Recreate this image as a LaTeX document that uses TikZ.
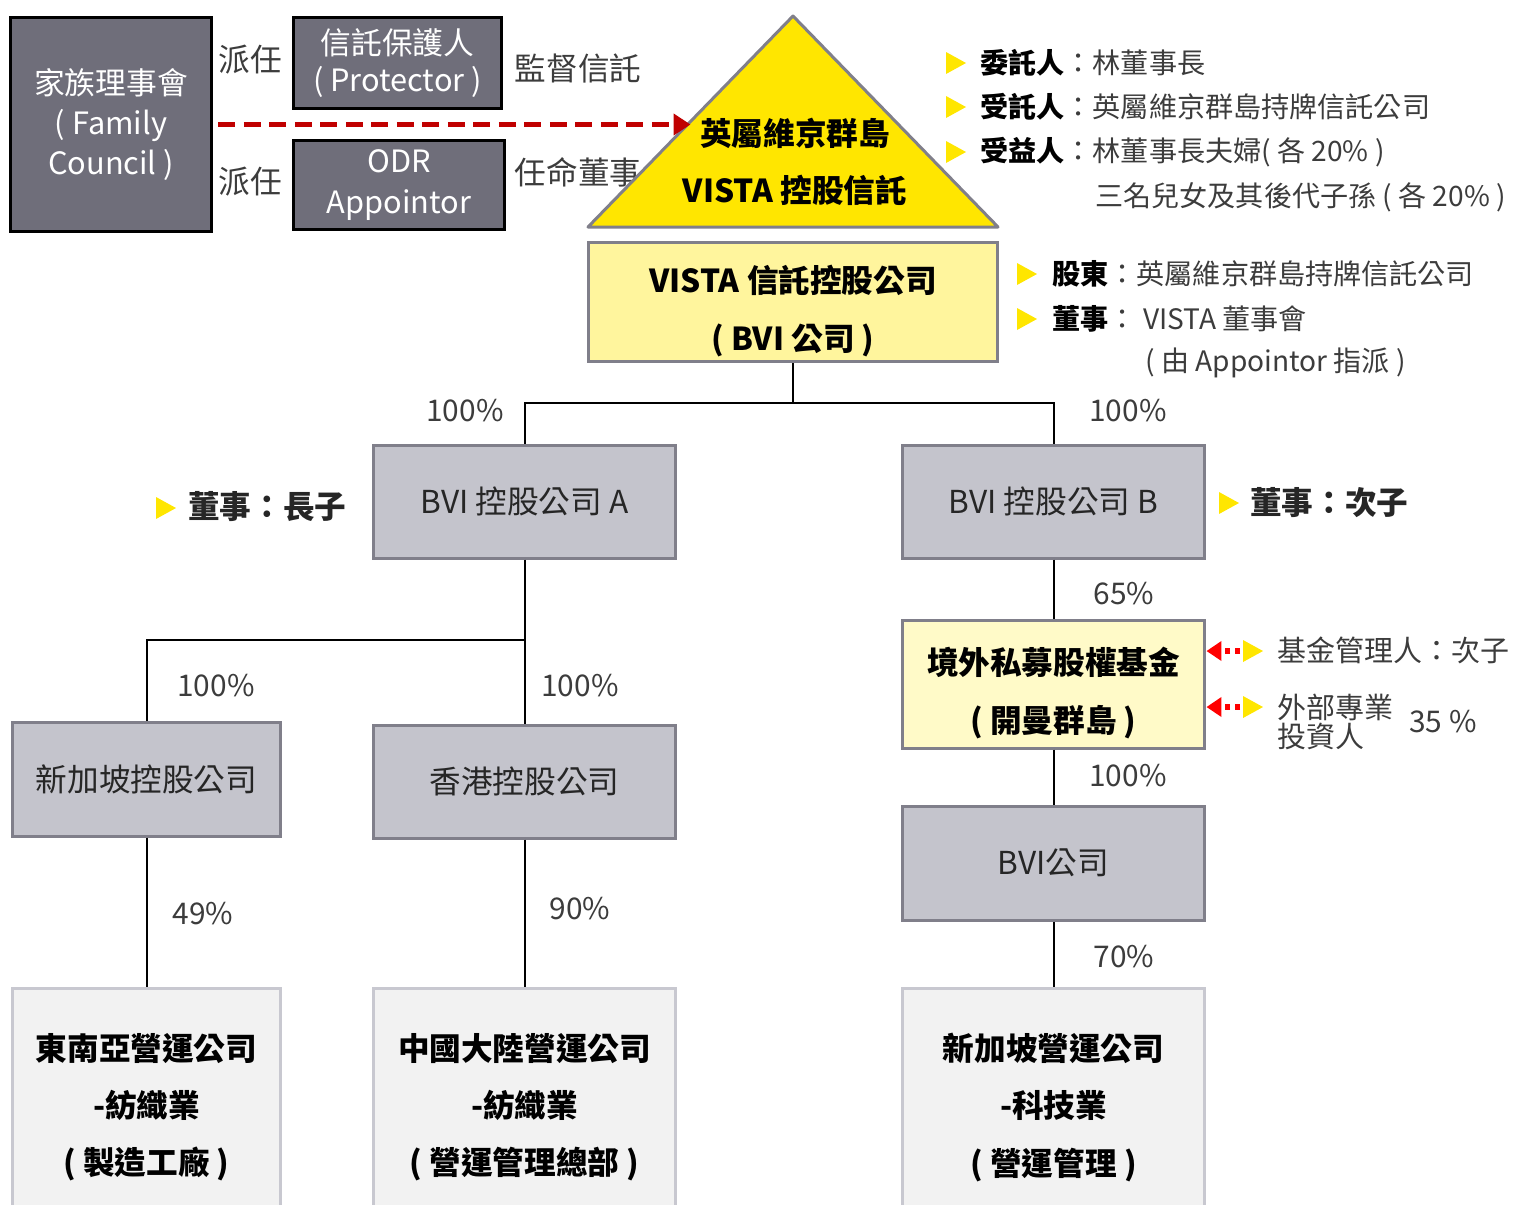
\documentclass[tikz,border=0pt]{standalone}
\usepackage{fontspec}
\setmainfont{Noto Sans CJK TC}
\usetikzlibrary{arrows.meta,calc}

\definecolor{famgray}{RGB}{111,110,122}
\definecolor{boxgray}{RGB}{196,196,204}
\definecolor{boxedge}{RGB}{128,127,138}
\definecolor{opfill}{RGB}{242,242,242}
\definecolor{opedge}{RGB}{200,200,208}
\definecolor{trustyellow}{RGB}{255,230,0}
\definecolor{vistayellow}{RGB}{255,245,157}
\definecolor{fundyellow}{RGB}{255,250,200}
\definecolor{darkred}{RGB}{192,0,0}
\definecolor{txtgray}{RGB}{60,60,60}

% yellow bullet pointing right
\newcommand{\ybul}[1]{\fill[trustyellow] (#1) ++(-9,-11) -- ++(20,11) -- ++(-20,11) -- cycle;}
\newcommand{\hd}[1]{{\color{black}\bfseries #1}}

\tikzset{
  darkbox/.style={draw=black, line width=0.06cm, fill=famgray, text=white, align=center,
    inner sep=0pt, font=\fontsize{17.5}{23}\selectfont},
  holdbox/.style={draw=boxedge, line width=0.06cm, fill=boxgray, text=black!85, align=center,
    inner sep=0pt, minimum width=6.06cm, font=\fontsize{18}{22}\selectfont},
  yellowbox/.style={draw=boxedge, line width=0.06cm, inner sep=0pt},
  boxtext/.style={align=center, inner sep=0pt, font=\bfseries\fontsize{18}{32.5}\selectfont},
  opbox/.style={draw=opedge, line width=0.06cm, fill=opfill, align=center, anchor=north,
    inner sep=0pt, minimum height=4.76cm, font=\bfseries\fontsize{18}{32.5}\selectfont},
  note/.style={text=txtgray, inner sep=0pt, font=\fontsize{18}{22}\selectfont},
  listtext/.style={anchor=west, text=txtgray, inner sep=0pt, font=\fontsize{16}{20}\selectfont},
  dirtext/.style={anchor=west, text=black!85, inner sep=0pt, font=\bfseries\fontsize{18}{22}\selectfont},
  pct/.style={text=txtgray, inner sep=0pt, font=\fontsize{17}{20}\selectfont},
  link/.style={line width=0.04cm, black},
  dotarrow/.style={red, line width=0.12cm, dash pattern=on 0.1cm off 0.1cm,
    -{Triangle[length=0.3cm,width=0.38cm]}}
}

\begin{document}
\begin{tikzpicture}[x=0.02cm, y=-0.02cm]
  \useasboundingbox (0,0) rectangle (1513,1204);
  \clip (0,0) rectangle (1513,1204);

  % family council, protector, appointor
  \node[darkbox, minimum width=4.04cm, minimum height=4.30cm] (fam) at (111,124.5) {家族理事會\\( Family\\Council )};
  \node[darkbox, minimum width=4.18cm, minimum height=1.84cm] (prot) at (397.5,63) {\raisebox{-0.06cm}{信託保護人}\\( Protector )};
  \node[darkbox, minimum width=4.24cm, minimum height=1.80cm] (odr) at (399,185) {ODR\\Appointor};

  \node[note] (pai1) at (250,60) {派任};
  \node[note] (pai2) at (250,182) {派任};
  \node[note] (jiandu) at (578,68) {監督信託};
  \node[note] (renming) at (578,172) {任命董事};

  % trust triangle
  \coordinate (apex) at (793,16);
  \coordinate (triL) at (588,227);
  \coordinate (triR) at (998,227);
  \draw[draw=boxedge, line width=0.06cm, fill=trustyellow, line join=round] (apex) -- (triR) -- (triL) -- cycle;
  \node[boxtext] (trust) at (795,162) {英屬維京群島\\VISTA 控股信託};

  \coordinate (hit) at ($(apex)!0.5!(triL)$);
  \draw[darkred, line width=0.1cm, dash pattern=on 0.34cm off 0.17cm, shorten <=0.1cm,
    -{Triangle[length=0.34cm,width=0.42cm]}] (fam.east) -- (fam.east -| hit);

  % trust holding company
  \node[yellowbox, fill=vistayellow, minimum width=8.2cm, minimum height=2.4cm] (vista) at (793,302) {};
  \node[boxtext] (vistatxt) at (793,311) {VISTA 信託控股公司\\( BVI 公司 )};

  % notes on the trust
  \ybul{955,63}  \node[listtext] (settlor) at (980,63) {\hd{委託人}：林董事長};
  \ybul{955,107} \node[listtext] (trustee) at (980,107) {\hd{受託人}：英屬維京群島持牌信託公司};
  \ybul{955,152} \node[listtext] (benef) at (980,152) {\hd{受益人}：林董事長夫婦( 各 20\% )};
  \node[listtext] (benef2) at (1095,197) {三名兒女及其後代子孫 ( 各 20\% )};

  \ybul{1026,274} \node[listtext] (holder) at (1052,274) {\hd{股東}：英屬維京群島持牌信託公司};
  \ybul{1026,319} \node[listtext] (board) at (1052,319) {\hd{董事}： VISTA 董事會};
  \node[listtext] (board2) at (1145,363) {( 由 Appointor 指派 )};

  % holding companies
  \node[holdbox, minimum height=2.26cm] (bvia) at (524.5,501.5) {BVI 控股公司 A};
  \node[holdbox, minimum height=2.26cm] (bvib) at (1053.5,501.5) {BVI 控股公司 B};
  \node[holdbox, minimum width=5.38cm, minimum height=2.28cm] (sgh) at (146.5,779) {新加坡控股公司};
  \node[holdbox, minimum height=2.26cm] (hkh) at (524.5,781.5) {香港控股公司};
  \node[holdbox, minimum height=2.28cm] (bvic) at (1053.5,863) {BVI公司};
  \node[yellowbox, fill=fundyellow, minimum width=6.06cm, minimum height=2.56cm] (fund) at (1053.5,684) {};
  \node[boxtext] (fundtxt) at (1053.5,693) {境外私募股權基金\\( 開曼群島 )};

  \ybul{165,508}  \node[dirtext] (dira) at (188,507) {董事：長子};
  \ybul{1228,503} \node[dirtext] (dirb) at (1250,503) {董事：次子};

  % operating companies
  \node[opbox, minimum width=5.38cm] (sea) at (146.5,987) {東南亞營運公司\\-紡織業\\( 製造工廠 )};
  \node[opbox, minimum width=6.06cm] (cn) at (524.5,987) {中國大陸營運公司\\-紡織業\\( 營運管理總部 )};
  \node[opbox, minimum width=6.06cm] (sgo) at (1053.5,987) {新加坡營運公司\\-科技業\\( 營運管理 )};

  % fund manager and investors
  \coordinate (fa1) at (1240,651);
  \coordinate (fa2) at (1240,707);
  \draw[dotarrow] (fa1) -- (fund.east |- fa1);
  \draw[dotarrow] (fa2) -- (fund.east |- fa2);
  \ybul{1252,651} \node[listtext, font=\fontsize{16.5}{20}\selectfont] (mgr) at (1277,650) {基金管理人：次子};
  \ybul{1252,707} \node[listtext, align=left, font=\fontsize{16.5}{17}\selectfont] (ext) at (1277,722) {外部專業\\投資人};
  \node[pct] (ext35) at (1443,722) {35 \%};

  % ownership lines
  \coordinate (j1) at (793,403);
  \coordinate (j2) at (524.5,640);
  \draw[link] (vista.south) -- (j1) -| (bvia.north);
  \draw[link] (j1) -| (bvib.north);
  \draw[link] (bvia.south) -- (hkh.north);
  \draw[link] (j2) -| (sgh.north);
  \draw[link] (bvib.south) -- (fund.north);
  \draw[link] (fund.south) -- (bvic.north);
  \draw[link] (sgh.south) -- (sea.north);
  \draw[link] (hkh.south) -- (cn.north);
  \draw[link] (bvic.south) -- (sgo.north);

  \node[pct] (p1) at (465,411) {100\%};
  \node[pct] (p2) at (1128,411) {100\%};
  \node[pct] (p3) at (216,686) {100\%};
  \node[pct] (p4) at (580,686) {100\%};
  \node[pct] (p5) at (1124,594) {65\%};
  \node[pct] (p6) at (1128,776) {100\%};
  \node[pct] (p7) at (203,914) {49\%};
  \node[pct] (p8) at (580,909) {90\%};
  \node[pct] (p9) at (1124,957) {70\%};
\end{tikzpicture}
\end{document}
